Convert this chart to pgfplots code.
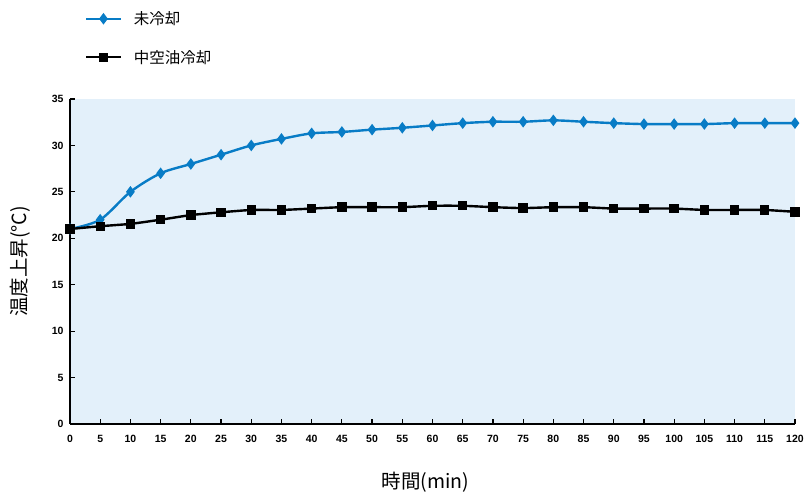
\documentclass[border=0pt]{standalone}
\usepackage{fontspec}
\usepackage{pgfplots}
\pgfplotsset{compat=1.18}
\setmainfont{Liberation Sans}
\newfontfamily\cjk{Noto Sans CJK JP}
\newfontfamily\tickfont[UprightFont={* Bold}]{Liberation Sans}
\definecolor{bgblue}{RGB}{227,240,250}
\definecolor{lineblue}{RGB}{8,124,198}
\begin{document}
\begin{tikzpicture}
\useasboundingbox (-70pt,-70pt) rectangle (738pt,424pt);
\begin{axis}[
  scale only axis,
  width=725pt, height=325pt,
  at={(0pt,0pt)}, anchor=south west,
  xmin=0, xmax=120, ymin=0, ymax=35,
  xtick={0,5,...,120}, ytick={0,5,...,35},
  axis lines*=left,
  axis line style={line width=1.6pt, black},
  tick style={black, line width=1.2pt},
  major tick length=5pt,
  tick align=inside,
  axis background/.style={fill=bgblue},
  /pgf/number format/assume math mode=true,
  ticklabel style={font=\tickfont\fontsize{10.5}{12}\selectfont},
  xticklabel style={yshift=-8pt},
  yticklabel style={xshift=-3pt},
  xlabel={時間(min)},
  ylabel={温度上昇(°C)},
  xlabel style={font=\cjk\fontsize{19.5}{22}\selectfont, at={(axis description cs:0.49,-0.178)}, anchor=center},
  ylabel style={font=\cjk\fontsize{19.5}{22}\selectfont, at={(axis description cs:-0.069,0.5)}, anchor=center},
  legend style={at={(axis description cs:0.0207,1.276)}, anchor=north west, draw=none, fill=none,
    font=\cjk\fontsize{15.5}{18}\selectfont, row sep=20pt, column sep=10pt, inner sep=0pt},
  legend cell align=left,
  legend image code/.code={\draw[mark repeat=2,mark phase=2] plot coordinates {(0cm,0cm) (0.6cm,0cm) (1.2cm,0cm)};},
]
\addplot[lineblue, line width=2.4pt, mark=diamond*, mark size=5pt, mark options={fill=lineblue, draw=lineblue, line width=1pt}, smooth, tension=0.5] coordinates {
(0,21.0) (5,22.0) (10,25.0) (15,27.0) (20,28.0) (25,29.0) (30,30.0) (35,30.7) (40,31.3) (45,31.45) (50,31.7) (55,31.9) (60,32.15) (65,32.4) (70,32.55) (75,32.55) (80,32.7) (85,32.55) (90,32.4) (95,32.3) (100,32.3) (105,32.3) (110,32.4) (115,32.4) (120,32.4)
};
\addlegendentry{未冷却}
\addplot[black, line width=2.4pt, mark=square*, mark size=4.2pt, mark options={fill=black, line width=1pt}, smooth, tension=0.3] coordinates {
(0,21.0) (5,21.3) (10,21.55) (15,22.0) (20,22.5) (25,22.8) (30,23.05) (35,23.05) (40,23.2) (45,23.35) (50,23.35) (55,23.35) (60,23.5) (65,23.5) (70,23.35) (75,23.25) (80,23.35) (85,23.35) (90,23.2) (95,23.2) (100,23.2) (105,23.05) (110,23.05) (115,23.05) (120,22.85)
};
\addlegendentry{中空油冷却}
\end{axis}
\end{tikzpicture}
\end{document}
